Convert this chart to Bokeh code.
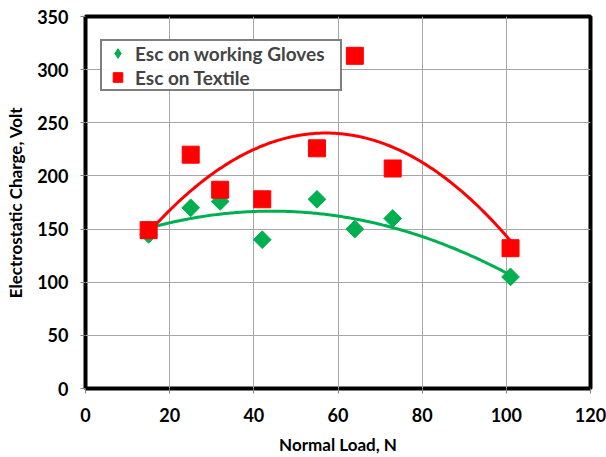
import numpy as np
from bokeh.plotting import figure
from bokeh.models import Range1d, Legend, LegendItem, FixedTicker
from bokeh.embed import file_html
from bokeh.resources import INLINE

# Normal load (N) and measured electrostatic charge (V)
load = [15, 25, 32, 42, 55, 64, 73, 101]
gloves = [145, 170, 176, 140, 178, 150, 160, 105]
textile = [149, 220, 187, 178, 226, 313, 207, 132]

x_ticks = [0, 20, 40, 60, 80, 100, 120]
y_ticks = [0, 50, 100, 150, 200, 250, 300, 350]

GREEN = "#00b050"
RED = "#ff0000"
FONT = "Lato"

p = figure(width=606, height=457, output_backend="svg", toolbar_location=None,
           x_range=Range1d(0, 120), y_range=Range1d(0, 350),
           min_border_left=85, min_border_right=16, min_border_top=16,
           min_border_bottom=67)

p.outline_line_color = "black"
p.outline_line_width = 4

for ax in (p.xaxis, p.yaxis):
    ax.axis_line_color = None
    ax.major_tick_in = 0
    ax.major_tick_out = 5
    ax.major_tick_line_color = "#808080"
    ax.minor_tick_line_color = None
    ax.major_label_text_font = FONT
    ax.major_label_text_font_style = "bold"
    ax.major_label_text_font_size = "18px"
    ax.major_label_text_color = "black"
    ax.axis_label_text_font = FONT
    ax.axis_label_text_font_style = "bold"
    ax.axis_label_text_font_size = "17px"
    ax.axis_label_text_color = "black"

p.xaxis.ticker = FixedTicker(ticks=x_ticks)
p.yaxis.ticker = FixedTicker(ticks=y_ticks)
p.xaxis.axis_label = "Normal Load, N"
p.yaxis.axis_label = "Electrostatic Charge, Volt"
p.xaxis.major_label_standoff = 14
p.xaxis.axis_label_standoff = 9
p.yaxis.major_label_standoff = 12
p.yaxis.axis_label_standoff = 8

p.xgrid.grid_line_color = "#a6a6a6"
p.ygrid.grid_line_color = "#a6a6a6"
p.xgrid.grid_line_width = 1
p.ygrid.grid_line_width = 1

# Second-order polynomial trendlines over the measured load range
xs = np.linspace(min(load), max(load), 200)
g_fit = np.polyval(np.polyfit(load, gloves, 2), xs)
t_fit = np.polyval(np.polyfit(load, textile, 2), xs)
p.line(xs, t_fit, line_color=RED, line_width=3)
p.line(xs, g_fit, line_color=GREEN, line_width=3)

# Narrow diamond used as the legend key for the gloves series; it sits
# fully underneath the wider diamonds drawn next
g_key = p.scatter(load, gloves, marker="diamond", size=12, fill_color=GREEN,
                  line_color=GREEN)

# Diamonds drawn as squares turned by 45 degrees
p.scatter(load, gloves, marker="square", angle=np.pi / 4, size=12.5,
          fill_color=GREEN, line_color=GREEN)
r_t = p.scatter(load, textile, marker="square", size=17, fill_color=RED,
                line_color=RED)

legend = Legend(items=[LegendItem(label="Esc on working Gloves", renderers=[g_key]),
                       LegendItem(label="Esc on Textile", renderers=[r_t])],
                location=(15, 297))
legend.border_line_color = "black"
legend.border_line_width = 2
legend.label_text_font = FONT
legend.label_text_font_style = "bold"
legend.label_text_font_size = "19px"
legend.glyph_width = 31
legend.glyph_height = 24
legend.label_standoff = 2
legend.label_width = 205
legend.label_height = 24
legend.spacing = 0
legend.padding = 0
legend.margin = 0
p.add_layout(legend)

open("out.html", "w").write(file_html(p, INLINE))
